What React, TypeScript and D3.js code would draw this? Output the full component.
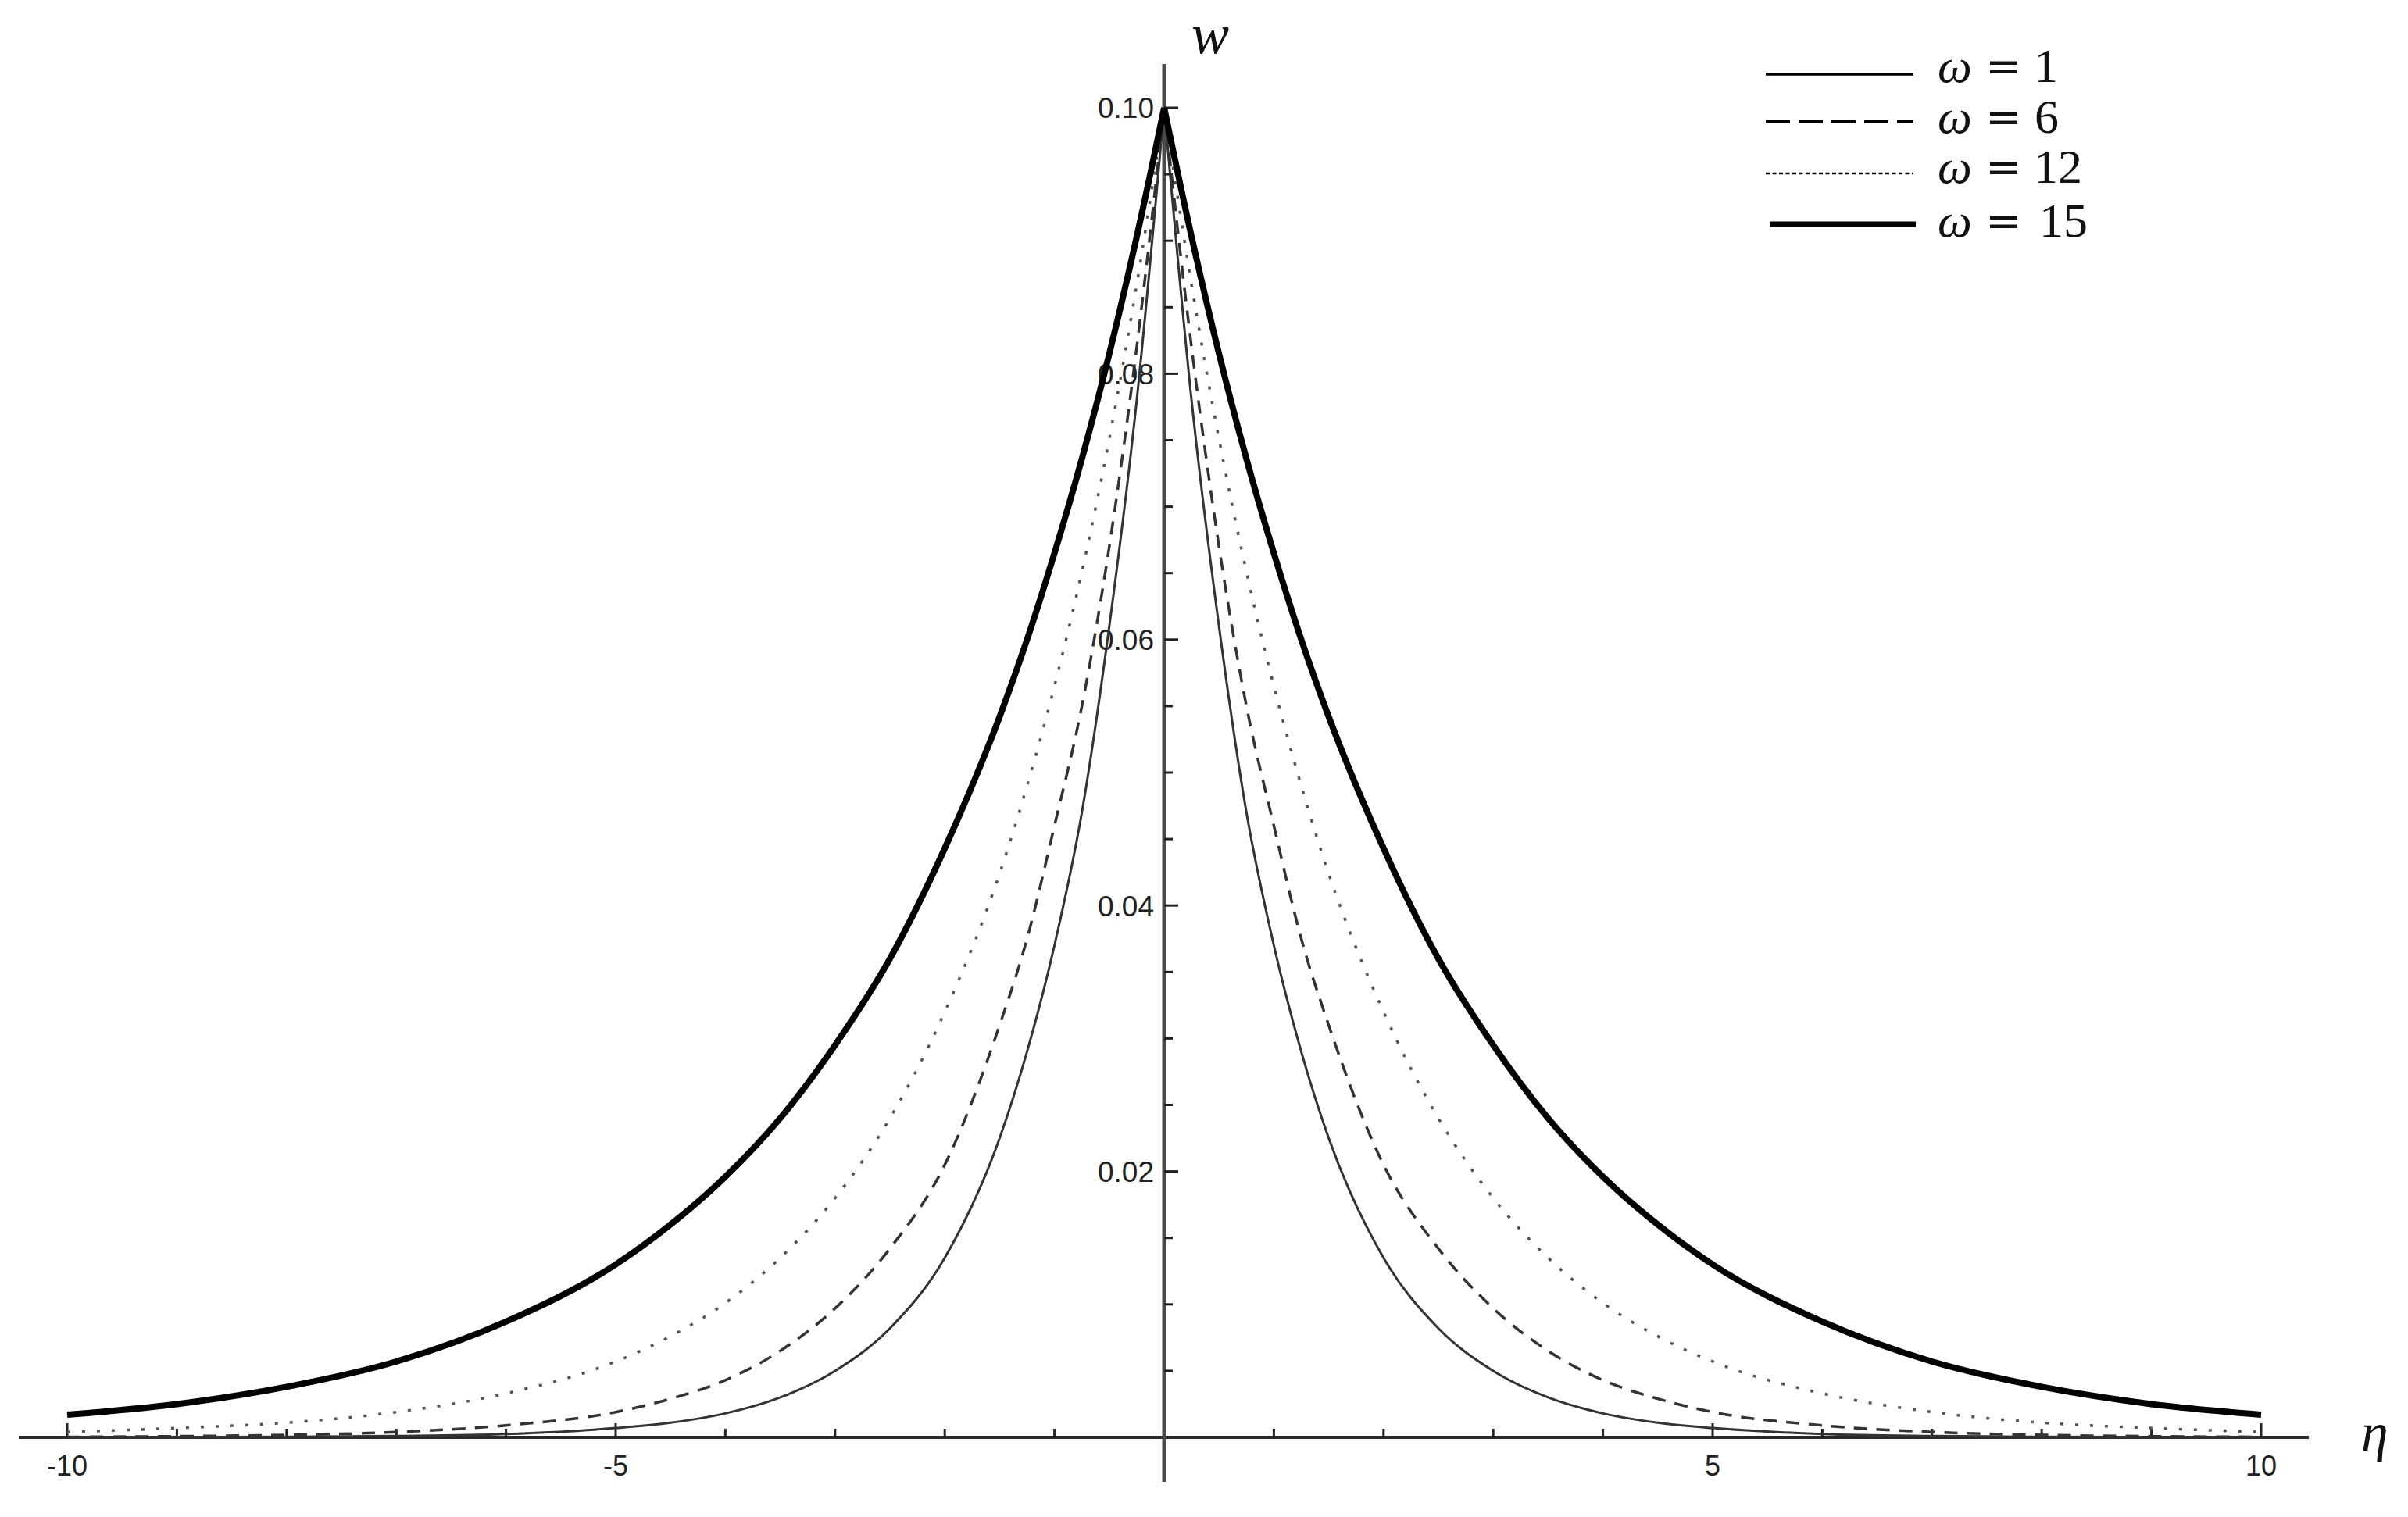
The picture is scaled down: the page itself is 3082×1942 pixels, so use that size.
import React from "react";
import * as d3 from "d3";

// η values (right half; the plot is symmetric about η = 0)
const etaValues = [0, 0.25, 0.5, 0.75, 1, 1.25, 1.5, 2, 2.5, 3, 3.5, 4, 4.5, 5, 6, 7, 8, 9, 10];
// w values for each ω
const wOmega1 = [0.1, 0.078, 0.061, 0.047, 0.037, 0.029, 0.0225, 0.0135, 0.0082, 0.005, 0.003, 0.0018, 0.0011, 0.0007, 0.00025, 0.0001, 0.00004, 0.00002, 0.00001];
const wOmega6 = [0.1, 0.082, 0.067, 0.055, 0.046, 0.0375, 0.031, 0.0205, 0.0142, 0.0097, 0.0065, 0.0043, 0.0029, 0.0019, 0.0009, 0.0004, 0.00018, 0.00008, 0.00003];
const wOmega12 = [0.1, 0.0867, 0.0751, 0.0651, 0.0565, 0.049, 0.0424, 0.032, 0.024, 0.018, 0.0135, 0.0101, 0.0076, 0.0057, 0.0033, 0.0019, 0.0011, 0.0007, 0.0004];
const wOmega15 = [0.1, 0.0903, 0.0815, 0.0736, 0.0665, 0.06, 0.0542, 0.0443, 0.036, 0.0295, 0.024, 0.0196, 0.016, 0.013, 0.0087, 0.0057, 0.0038, 0.0025, 0.0017];

const omegaLabels = ["1", "6", "12", "15"];
const xTickMajor = [-10, -5, 5, 10];
const xTickLabels = ["-10", "-5", "5", "10"];
const yTickMajor = [0.02, 0.04, 0.06, 0.08, 0.1];
const yTickLabels = ["0.02", "0.04", "0.06", "0.08", "0.10"];

const W = 3082;
const H = 1942;

const styles = [
  { stroke: "#333", width: 3, dash: null, legendDash: null, legendWidth: 3.3 },
  { stroke: "#333", width: 3.5, dash: "17,12", legendDash: "31,11", legendWidth: 4 },
  { stroke: "#555", width: 3.5, dash: "4,15", legendDash: "5,3.5", legendWidth: 2.5 },
  { stroke: "#000", width: 8, dash: null, legendDash: null, legendWidth: 7 },
];

export default function App() {
  const x = d3.scaleLinear().domain([-10, 10]).range([86, 2894]);
  const y = d3.scaleLinear().domain([0, 0.1]).range([1840, 138]);
  const series = [wOmega1, wOmega6, wOmega12, wOmega15];

  const line = d3
    .line<[number, number]>()
    .x((d) => x(d[0]))
    .y((d) => y(d[1]))
    .curve(d3.curveMonotoneX);

  const halves = (vals: number[]) => {
    const right: [number, number][] = etaValues.map((e, i) => [e, vals[i]]);
    const left: [number, number][] = etaValues.map((e, i) => [-e, vals[i]] as [number, number]).reverse();
    return [left, right];
  };

  const x0 = x(0);
  const yAxisY = y(0);

  const minorX = d3.range(-10, 11).filter((v) => v !== 0 && !xTickMajor.includes(v));
  const minorY = d3.range(1, 21).map((i) => i * 0.005).filter((v) => Math.round(v * 1000) % 20 !== 0);

  const legendLineY = [95, 156, 222, 287];
  const legendBase = [105, 170, 234, 303];
  const legendNumX = [2603, 2604, 2603, 2610];

  return (
    <svg
      width={W}
      height={H}
      style={{ position: "absolute", left: 0, top: 0, display: "block", background: "#fff" }}
    >
      <rect x={0} y={0} width={W} height={H} fill="#fff" />
      {/* x axis */}
      <line x1={24} x2={2955} y1={yAxisY} y2={yAxisY} stroke="#2a2a2a" strokeWidth={4} />
      {/* y axis */}
      <line x1={x0} x2={x0} y1={82} y2={1897} stroke="#4a4a4a" strokeWidth={5} />

      {/* x ticks */}
      {minorX.map((v) => (
        <line key={"mx" + v} x1={x(v)} x2={x(v)} y1={yAxisY} y2={yAxisY - 11} stroke="#222" strokeWidth={3} />
      ))}
      {xTickMajor.map((v, i) => (
        <g key={"Mx" + v}>
          <line x1={x(v)} x2={x(v)} y1={yAxisY} y2={yAxisY - 18} stroke="#222" strokeWidth={3} />
          <text
            x={x(v)}
            y={1889}
            textAnchor="middle"
            fontFamily="Liberation Sans, Arial, sans-serif"
            fontSize={36}
            fill="#222"
          >
            {xTickLabels[i]}
          </text>
        </g>
      ))}

      {/* y ticks */}
      {minorY.map((v) => (
        <line key={"my" + v} x1={x0} x2={x0 + 11} y1={y(v)} y2={y(v)} stroke="#222" strokeWidth={3} />
      ))}
      {yTickMajor.map((v, i) => (
        <g key={"My" + v}>
          <line x1={x0} x2={x0 + 18} y1={y(v)} y2={y(v)} stroke="#222" strokeWidth={3} />
          <text
            x={1477}
            y={y(v)}
            dy="0.36em"
            textAnchor="end"
            fontFamily="Liberation Sans, Arial, sans-serif"
            fontSize={37}
            fill="#222"
          >
            {yTickLabels[i]}
          </text>
        </g>
      ))}

      {/* curves */}
      {series.map((vals, si) => {
        const st = styles[si];
        return halves(vals).map((half, hi) => (
          <path
            key={"c" + si + "-" + hi}
            d={line(half) || ""}
            fill="none"
            stroke={st.stroke}
            strokeWidth={st.width}
            strokeDasharray={st.dash || undefined}
            strokeLinejoin="round"
          />
        ));
      })}

      {/* axis labels */}
      <text x={1525} y={68} fontFamily="Liberation Serif, serif" fontStyle="italic" fontSize={72} fill="#111">
        w
      </text>
      <text x={3022} y={1857} fontFamily="Liberation Serif, serif" fontStyle="italic" fontSize={70} fill="#111">
        η
      </text>

      {/* legend */}
      {omegaLabels.map((lab, i) => {
        const st = styles[i];
        return (
          <g key={"lg" + i}>
            <line
              x1={i === 3 ? 2265 : 2260}
              x2={i === 3 ? 2452 : 2449}
              y1={legendLineY[i]}
              y2={legendLineY[i]}
              stroke="#000"
              strokeWidth={st.legendWidth}
              strokeDasharray={st.legendDash || undefined}
            />
            <text x={2480} y={legendBase[i]} fontFamily="Liberation Serif, serif" fontSize={62} fontStyle="italic" fill="#111">
              ω
            </text>
            <text x={2541} y={legendBase[i] - 1} fontFamily="DejaVu Serif, Liberation Serif, serif" fontSize={56} fill="#111">
              =
            </text>
            <text x={legendNumX[i]} y={legendBase[i]} fontFamily="Liberation Serif, serif" fontSize={62} fill="#111">
              {lab}
            </text>
          </g>
        );
      })}
    </svg>
  );
}
